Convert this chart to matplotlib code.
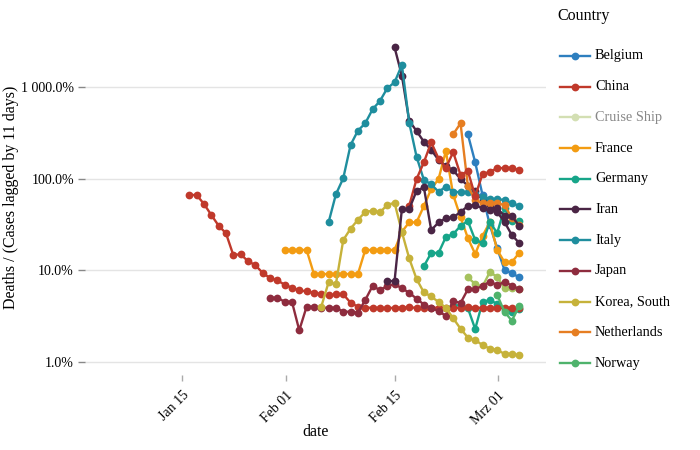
import matplotlib
matplotlib.use("Agg")
import matplotlib.pyplot as plt
from matplotlib.lines import Line2D
from matplotlib.ticker import FixedLocator, FuncFormatter, NullLocator
import numpy as np

plt.rcParams['font.family'] = ['Liberation Serif', 'DejaVu Serif']

# ---------------- data (day index 0 = "Jan 15" tick, values in percent) ----------------
belgium_start = 39
belgium = [305, 151, 66.4, 31.2, 17.4, 10.1, 9.29, 8.4]

china_start = 1
china = [66.4, 66.4, 53.0, 40.2, 30.7, 25.4, 14.7, 15.0, 12.6, 11.4, 9.4, 8.25,
         7.8, 6.97, 6.47, 6.05, 5.9, 5.7, 5.48, 5.32, 5.48, 5.48, 4.44, 4.01,
         3.93, 3.9, 3.9, 3.88, 3.9, 3.93, 3.95, 3.9, 3.88, 3.9, 3.93, 3.9, 3.88,
         3.9, 3.95, 3.92, 3.9, 3.93, 3.9, 3.92, 3.9, 3.9]

france_start = 14
france = [16.7, 16.7, 16.7, 16.7, 9.12, 9.12, 9.12, 9.12, 9.12, 9.12, 9.12,
          16.7, 16.7, 16.7, 16.7, 16.7, 26.4, 33.4, 33.4, 50.3, 77.1, 99.1, 200,
          66.4, 38.2, 22.5, 15.1, 23.7, 33.6, 16.7, 12.3, 12.3, 15.5]

germany_start = 33
germany = [11.1, 15.5, 15.5, 23.1, 24.9, 30.5, 34.5, 21.4, 19.9, 33.7, 25.5,
           47.9, 34.5, 34.5]

iran_start = 29
iran = [2710, 1328, 429, 331, 253, 206, 160, 137, 124, 99.1, 83.8, 73.4, 58.5,
        51.6, 43.3, 33.7, 24.3, 19.9]

italy_start = 20
italy = [33.4, 67.6, 101, 233, 334, 402, 571, 703, 968, 1125, 1738, 408, 174,
         96.8, 86.8, 72.1, 81.7, 72.1, 71.0, 71.0, 67.6, 63.6, 60.0, 60.0, 58.5,
         53.9, 50.7]

japan_start = 12
japan = [5.03, 5.03, 4.55, 4.55, 2.22, 4.01, 4.01, 3.91, 3.91, 3.91, 3.54, 3.54,
         3.45, 4.75, 6.75, 6.1, 6.75, 7.1, 6.37, 5.7, 4.91, 4.24, 3.88, 3.6, 3.18,
         4.63, 4.4, 6.21, 6.21, 6.78, 7.52, 6.92, 7.46, 6.83, 6.25]

korea_start = 19
korea = [4.01, 7.41, 7.1, 21.4, 28.5, 35.6, 43.3, 44.7, 43.0, 51.6, 54.7, 26.2,
         13.5, 8.05, 5.75, 5.19, 4.52, 3.91, 3.0, 2.31, 1.85, 1.74, 1.53, 1.40,
         1.35, 1.23, 1.23, 1.18]

netherlands_start = 37
netherlands = [305, 402, 83.2, 58.5, 53.9, 54.2, 53.9, 51.6, 37.2, 31.2]

norway_start = 43
norway = [5.38, 3.54, 2.82, 4.08]

# further series drawn with repeated palette colours (not listed in the legend)
extra_red_start = 31
extra_red = [50.7, 99.1, 151, 249, 166, 131, 195, 110, 121, 64.7, 112, 119, 130,
             131, 131, 124]
extra_purple_start = 28
extra_purple = [7.65, 7.65, 46.7, 46.7, 73.4, 80.5, 27.5, 33.3, 37.0, 37.9, 43.3,
                50.3, 51.6, 47.5, 45.5, 47.5, 39.2, 39.2, 30.5]
extra_green_start = 37
extra_green = [4.08, 4.2, 3.88, 2.29, 4.52, 4.75, 4.3, 3.69, 3.5, 3.8]
extra_lime_start = 39
extra_lime = [8.36, 7.1, 6.67, 9.6, 8.45, 6.41, 6.41, 6.2]

legend_names = ["Belgium", "China", "Cruise Ship", "France", "Germany", "Iran",
                "Italy", "Japan", "Korea, South", "Netherlands", "Norway"]
legend_colors = ["#2e7fbf", "#c0392b", "#d3dfb3", "#f39c12", "#17a589", "#4a2545",
                 "#1f8e9e", "#8e2c3e", "#c6b23a", "#e67e22", "#4fb36c"]

tick_pos = [0, 14.15, 29.1, 43.05]
tick_labels = ["Jan 15", "Feb 01", "Feb 15", "Mrz 01"]
y_ticks = [1, 10, 100, 1000]

series = [
    (extra_lime_start, extra_lime, "#a6c25e"),
    (extra_green_start, extra_green, "#17a589"),
    (belgium_start, belgium, legend_colors[0]),
    (china_start, china, legend_colors[1]),
    (france_start, france, legend_colors[3]),
    (germany_start, germany, legend_colors[4]),
    (iran_start, iran, legend_colors[5]),
    (italy_start, italy, legend_colors[6]),
    (japan_start, japan, legend_colors[7]),
    (korea_start, korea, legend_colors[8]),
    (netherlands_start, netherlands, legend_colors[9]),
    (norway_start, norway, legend_colors[10]),
    (extra_red_start, extra_red, legend_colors[1]),
    (extra_purple_start, extra_purple, legend_colors[5]),
]

# ---------------- figure ----------------
W, H = 700, 450
fig = plt.figure(figsize=(W / 100, H / 100), dpi=100)
ax = fig.add_axes([85 / W, 1 - 375 / H, (546 - 85) / W, (375 - 20) / H])

for start, vals, col in series:
    days = np.arange(start, start + len(vals))
    ax.plot(days, vals, '-', color=col, lw=1.7, marker='o', ms=5.6, mew=0, zorder=3)

ax.set_yscale('log')
ax.set_ylim(0.722, 5383)
ax.set_xlim(-13.23, 49.66)

ax.yaxis.set_major_locator(FixedLocator(y_ticks))
ax.yaxis.set_minor_locator(NullLocator())
ax.yaxis.set_major_formatter(FuncFormatter(lambda v, p: f"{v:,.1f}".replace(",", " ") + "%"))
ax.set_xticks(tick_pos)
ax.set_xticklabels(tick_labels, rotation=45, ha='right', va='top', rotation_mode='anchor')

for s in ax.spines.values():
    s.set_visible(False)
ax.grid(axis='y', color='#e4e4e4', lw=1, zorder=0)
ax.grid(axis='x', visible=False)
ax.tick_params(axis='y', length=5, width=1, color='#888888', pad=3, labelsize=10)
ax.tick_params(axis='x', length=4, width=1, color='#aaaaaa', pad=6, labelsize=10)

ax.set_xlabel("date", fontsize=11.5, labelpad=-2)
ax.set_ylabel("Deaths / (Cases lagged by 11 days)", fontsize=11.5, labelpad=1)

# ---------------- legend ----------------
fig.text(557 / W, 1 - 16 / H, "Country", fontsize=11.5, ha='left', va='center')
for i, (name, col) in enumerate(zip(legend_names, legend_colors)):
    y = 1 - (56 + i * 30.7) / H
    fig.add_artist(Line2D([560 / W, 590 / W], [y, y], color=col, lw=1.7,
                          transform=fig.transFigure))
    fig.add_artist(Line2D([575 / W], [y], color=col, marker='o', ms=5.6, mew=0,
                          transform=fig.transFigure))
    fig.text(595 / W, y, name, fontsize=10.3, ha='left', va='center',
             color='#888888' if name == "Cruise Ship" else 'black')

fig.savefig("out.png", dpi=100)
